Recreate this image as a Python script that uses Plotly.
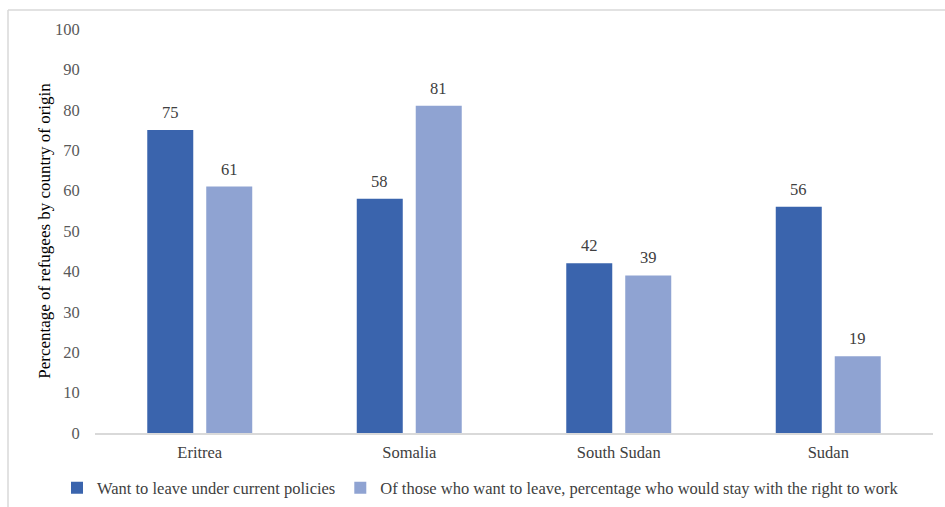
import plotly.graph_objects as go

categories = ["Eritrea", "Somalia", "South Sudan", "Sudan"]
want_leave = [75, 58, 42, 56]
stay_with_work = [61, 81, 39, 19]
series_names = [
    "Want to leave under current policies",
    "Of those who want to leave, percentage who would stay with the right to work",
]
y_ticks = [0, 10, 20, 30, 40, 50, 60, 70, 80, 90, 100]

FONT = "Liberation Serif"
DARK = "#3A64AD"
LIGHT = "#8FA3D2"
SIZE = 16.5
LABEL_FONT = dict(family=FONT, size=SIZE, color="#404040")

W, H = 945, 507
ml, mr, mt, mb = 95, 12, 29, 74
pw, ph = W - ml - mr, H - mt - mb
bargap, bargroupgap = 0.437, 0.22
slot = pw / len(categories) * (1 - bargap) / 2

fig = go.Figure()
fig.add_trace(go.Bar(
    x=categories, y=want_leave, name=series_names[0],
    marker=dict(color=DARK, line=dict(width=0)),
))
fig.add_trace(go.Bar(
    x=categories, y=stay_with_work, name=series_names[1],
    marker=dict(color=LIGHT, line=dict(width=0)),
))

annotations = []
for series, sign in ((want_leave, -1), (stay_with_work, 1)):
    for cat, v in zip(categories, series):
        annotations.append(dict(
            x=cat, y=v, xref="x", yref="y", text=str(v), showarrow=False,
            xanchor="center", yanchor="bottom", xshift=sign * slot / 2, yshift=6,
            font=LABEL_FONT,
        ))

fig.update_layout(
    width=W, height=H,
    margin=dict(l=ml, r=mr, t=mt, b=mb, pad=0, autoexpand=False),
    paper_bgcolor="white", plot_bgcolor="white",
    barmode="group", bargap=bargap, bargroupgap=bargroupgap,
    font=dict(family=FONT, size=SIZE, color="#595959"),
    showlegend=True,
    legend=dict(
        orientation="h", x=(57 - ml) / pw, xanchor="left",
        y=-(488 - (mt + ph)) / ph, yanchor="middle",
        font=dict(family=FONT, size=SIZE, color="#404040"),
        itemwidth=30, traceorder="normal", bgcolor="rgba(0,0,0,0)",
    ),
    xaxis=dict(
        showline=True, linecolor="#D9D9D9", linewidth=1.5, automargin=False,
        ticks="outside", ticklen=3, tickcolor="rgba(0,0,0,0)",
        tickfont=dict(family=FONT, size=SIZE, color="#404040"),
        showgrid=False, zeroline=False,
    ),
    yaxis=dict(
        range=[0, 100], tickvals=y_ticks, showgrid=False, zeroline=False,
        showline=False, ticks="outside", ticklen=11, tickcolor="rgba(0,0,0,0)",
        automargin=False,
        tickfont=dict(family=FONT, size=SIZE, color="#595959"),
        title=dict(text="Percentage of refugees by country of origin",
                   font=dict(family=FONT, size=17, color="#000000"), standoff=0),
    ),
    annotations=annotations,
    shapes=[
        dict(type="line", xref="paper", yref="paper",
             x0=(8 - ml) / pw, x1=(W + 5 - ml) / pw,
             y0=1 + (mt - 10) / ph, y1=1 + (mt - 10) / ph,
             line=dict(color="#D9D9D9", width=1.5)),
        dict(type="line", xref="paper", yref="paper",
             x0=(8 - ml) / pw, x1=(8 - ml) / pw,
             y0=1 + (mt - 10) / ph, y1=-(H + 5 - mt - ph) / ph,
             line=dict(color="#D9D9D9", width=1.5)),
    ],
)

fig.write_html("out.html")
